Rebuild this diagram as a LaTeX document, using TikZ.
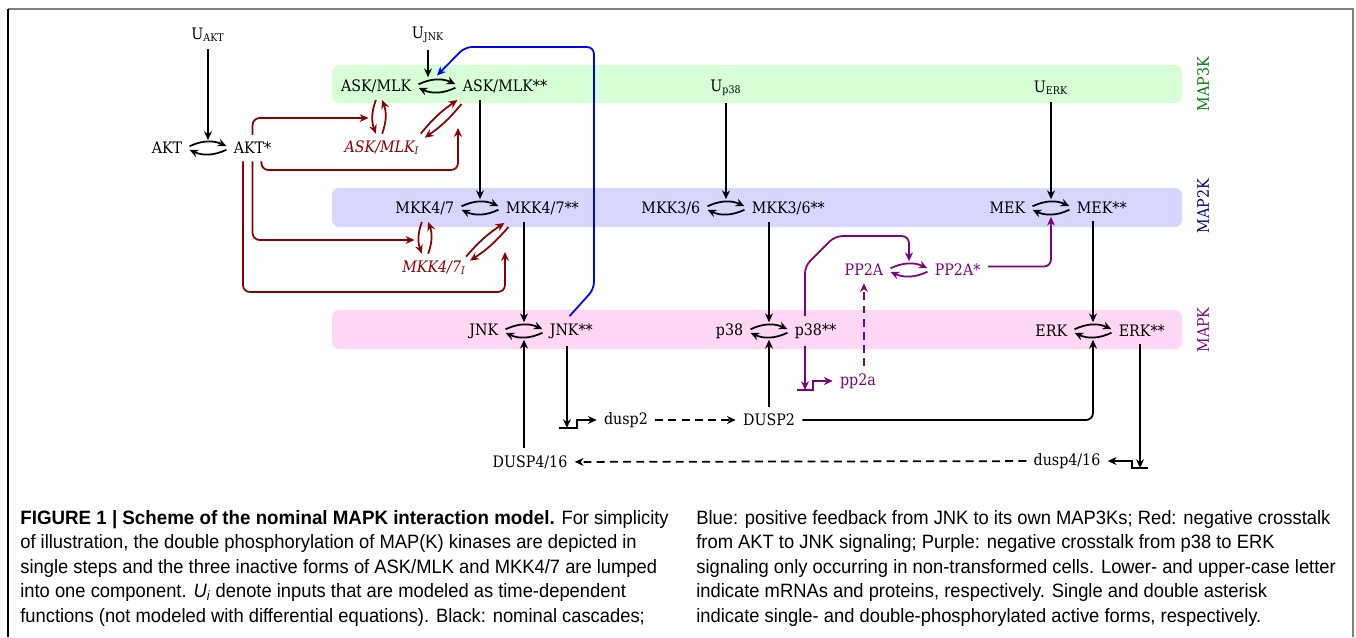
\documentclass[tikz,border=0pt]{standalone}
\usepackage{fontspec}
\setmainfont{DejaVu Serif}[FakeStretch=0.9]
\newfontfamily\capfont{Liberation Sans}[FakeStretch=0.95]
\newfontfamily\capbold{Liberation Sans}[FakeStretch=0.97]
\usetikzlibrary{arrows.meta,positioning,calc}

\definecolor{inh}{RGB}{139,0,0}
\definecolor{pur}{RGB}{128,0,128}
\definecolor{fbblue}{RGB}{0,0,255}
\definecolor{bandg}{RGB}{214,255,214}
\definecolor{bandb}{RGB}{214,214,255}
\definecolor{bandp}{RGB}{255,214,244}

% reversible (de)phosphorylation step centred on a coordinate
\newcommand{\swap}[2][black]{%
  \draw[conv,#1] ([xshift=-10.5pt,yshift=1pt]#2) to[bend left=25] ([xshift=10.5pt,yshift=1pt]#2);
  \draw[conv,#1] ([xshift=10.5pt,yshift=-1pt]#2) to[bend left=25] ([xshift=-10.5pt,yshift=-1pt]#2);}

\begin{document}
\begin{tikzpicture}[x=0.02cm,y=-0.02cm,
  font=\fontsize{9pt}{11pt}\selectfont,
  every node/.style={inner sep=4pt},
  conv/.style={line width=1pt,-{Stealth[length=5pt,width=4.5pt]}},
  mrna/.style={dash pattern=on 4.5pt off 3pt},
  inhib/.style={conv,inh},
  fback/.style={conv,fbblue},
  capline/.style={anchor=base west,inner sep=0pt,font=\capfont\fontsize{11pt}{13pt}\selectfont}]
\useasboundingbox (0,0) rectangle (1356,637);

%frame
\draw[gray,line width=1.2pt] (8,9) -- (1353,9) -- (1353,637);
\draw[line width=1pt] (8,9) -- (8,637);

%layers
\fill[bandg,rounded corners=4pt] (332,65) rectangle (1182,103);
\fill[bandb,rounded corners=4pt] (332,188) rectangle (1182,227);
\fill[bandp,rounded corners=4pt] (332,310) rectangle (1182,349);
\node[rotate=90,text=green!50!black] (map3k) at (1203,84) {MAP3K};
\node[rotate=90,text=blue!50!black] (map2k) at (1203,206) {MAP2K};
\node[rotate=90,text=pur] (mapk) at (1203,330) {MAPK};

%conversion points
\coordinate (sakt) at (208,148);
\coordinate (sask) at (437,86);
\coordinate (smkk47) at (480,208);
\coordinate (smkk36) at (726,208);
\coordinate (smek) at (1051,208);
\coordinate (spp2a) at (909,270);
\coordinate (sjnk) at (524,331);
\coordinate (sp38) at (769,331);
\coordinate (serk) at (1093,331);
\coordinate (vask) at (379,118);
\coordinate (vmkk) at (425,240);

%species
\node (uakt) at (208,35) {U\textsubscript{AKT}};
\node (ujnk) at (428,35) {U\textsubscript{JNK}};
\node (up38) at (726,88) {U\textsubscript{p38}};
\node (uerk) at (1051,88) {U\textsubscript{ERK}};
\node[left=10.5pt of sakt] (akt) {AKT};
\node[right=10.5pt of sakt] (aktp) {AKT*};
\node[left=10.5pt of sask] (askmlk) {ASK/MLK};
\node[right=10.5pt of sask] (askmlkp) {ASK/MLK**};
\node[text=inh] (askmlki) at (382,148) {\textit{ASK/MLK\textsubscript{I}}};
\node[left=10.5pt of smkk47] (mkk47) {MKK4/7};
\node[right=10.5pt of smkk47] (mkk47p) {MKK4/7**};
\node[text=inh] (mkk47i) at (434,268) {\textit{MKK4/7\textsubscript{I}}};
\node[left=10.5pt of smkk36] (mkk36) {MKK3/6};
\node[right=10.5pt of smkk36] (mkk36p) {MKK3/6**};
\node[left=10.5pt of smek] (mek) {MEK};
\node[right=10.5pt of smek] (mekp) {MEK**};
\node[left=10.5pt of spp2a,text=pur] (pp2am) {PP2A};
\node[right=10.5pt of spp2a,text=pur] (pp2ap) {PP2A*};
\node[left=10.5pt of sjnk] (jnk) {JNK};
\node[right=10.5pt of sjnk] (jnkp) {JNK**};
\node[left=10.5pt of sp38] (p38) {p38};
\node[right=10.5pt of sp38] (p38p) {p38**};
\node[left=10.5pt of serk] (erk) {ERK};
\node[right=10.5pt of serk] (erkp) {ERK**};
\node[text=pur] (pp2a) at (858,381) {pp2a};
\node (dusp2) at (626,420) {dusp2};
\node (dusp2p) at (769,420) {DUSP2};
\node (dusp416) at (530,462) {DUSP4/16};
\node (dusp416m) at (1067,461) {dusp4/16};
\coordinate (gdusp2) at (568,428);
\coordinate (gpp2a) at (805,390);
\coordinate (gdusp4) at (1140,468);

%cascades
\swap{sakt} \swap{sask} \swap{smkk47} \swap{smkk36} \swap{smek}
\swap{sjnk} \swap{sp38} \swap{serk} \swap[pur]{spp2a}
\draw[conv] (uakt) -- ([yshift=4.5pt]sakt);
\draw[conv] (ujnk) -- ([yshift=5pt]sask -| ujnk);
\draw[conv] (up38) -- ([yshift=5pt]smkk36);
\draw[conv] (uerk) -- ([yshift=5pt]smek);
\draw[conv] (askmlkp.south -| smkk47) -- ([yshift=5pt]smkk47);
\draw[conv] (mkk47p.south -| sjnk) -- ([yshift=5pt]sjnk);
\draw[conv] (mkk36p.south -| sp38) -- ([yshift=5pt]sp38);
\draw[conv] (mekp.south -| serk) -- ([yshift=5pt]serk);
%phosphatases
\draw[conv] (dusp416.north -| sjnk) -- ([yshift=-5pt]sjnk);
\draw[conv] (dusp2p) -- ([yshift=-5pt]sp38);
\draw[conv,rounded corners=4pt] (dusp2p.east) -| ([yshift=-5pt]serk);
\draw[conv] ([xshift=-2.5pt]jnkp.south) -- ([xshift=-2.5pt]jnkp.south |- gdusp2);
\draw[conv] ([xshift=-5pt]gdusp2) -- ([xshift=5pt]gdusp2) -- ++(0,-8) -- (dusp2.west);
\draw[conv,mrna] (dusp2) -- (dusp2p);
\draw[conv] ([xshift=-1pt]erkp.south) -- ([xshift=-1pt]erkp.south |- gdusp4);
\draw[conv] ([xshift=4.5pt]gdusp4) -- ([xshift=-4.5pt]gdusp4) -- ++(0,-7) -- (dusp416m.east);
\draw[conv,mrna] (dusp416m) -- (dusp416);

%positive feedback
\draw[fback,rounded corners=4pt] ([xshift=-1pt]jnkp.north) -- (594,289) -- (594,47) -- (465,47) -- ([yshift=6pt]sask);

%AKT crosstalk
\draw[inhib] ([xshift=-1.8pt]vask |- askmlk.south) to[bend right=20] ([xshift=-1.8pt]vask |- askmlki.north);
\draw[inhib] ([xshift=1.8pt]vask |- askmlki.north) to[bend right=20] ([xshift=1.8pt]vask |- askmlk.south);
\draw[inhib] ([shift={(-6,0)}]askmlki.north east) to[bend left=8] ([shift={(2,0)}]askmlkp.south west);
\draw[inhib] ([shift={(6,4)}]askmlkp.south west) to[bend left=8] ([shift={(-2,4)}]askmlki.north east);
\draw[inhib] ([xshift=-1.8pt]vmkk |- mkk47.south) to[bend right=20] ([xshift=-1.8pt]vmkk |- mkk47i.north);
\draw[inhib] ([xshift=1.8pt]vmkk |- mkk47i.north) to[bend right=20] ([xshift=1.8pt]vmkk |- mkk47.south);
\draw[inhib] ([shift={(-7,3)}]mkk47i.north east) to[bend left=8] ([shift={(6,1)}]mkk47p.south west);
\draw[inhib] ([shift={(10,5)}]mkk47p.south west) to[bend left=8] ([shift={(-3,7)}]mkk47i.north east);
\draw[inhib,rounded corners=4pt] (aktp.north) |- ([xshift=-6pt]vask);
\draw[inhib,rounded corners=4pt] ([xshift=5pt]aktp.south) |- (458,170) -- (458,128);
\draw[inhib,rounded corners=4pt] (aktp.south) |- ([xshift=-6pt]vmkk);
\draw[inhib,rounded corners=4pt] ([xshift=-5.5pt]aktp.south) |- (505,292) -- (505,252);

%p38 crosstalk
\draw[conv,pur,rounded corners=4pt] ([xshift=-6pt]p38p.north) -- ++(0,-50) -- ++(30,-30) -| ([yshift=5pt]spp2a);
\draw[conv,pur] ([xshift=-6pt]p38p.south) -- ([xshift=-6pt]p38p.south |- gpp2a);
\draw[conv,pur] ([xshift=-4.5pt]gpp2a) -- ([xshift=4.5pt]gpp2a) -- ++(0,-9) -- (pp2a.west);
\draw[conv,pur,mrna] (pp2a.north -| pp2am) -- (pp2am.south);
\draw[conv,pur,rounded corners=4pt] ([yshift=2pt]pp2ap.east) -| ([yshift=-5pt]smek);

%caption
\node[capline] (c1) at (20,524) {{\capbold\bfseries FIGURE 1 | Scheme of the nominal MAPK interaction model.} For simplicity};
\node[capline] (c2) at (20,548.5) {of illustration, the double phosphorylation of MAP(K) kinases are depicted in};
\node[capline] (c3) at (20,573) {single steps and the three inactive forms of ASK/MLK and MKK4/7 are lumped};
\node[capline] (c4) at (20,597.5) {into one component. \textit{U\textsubscript{i}} denote inputs that are modeled as time-dependent};
\node[capline] (c5) at (20,622) {functions (not modeled with differential equations). Black: nominal cascades;};
\node[capline] (c6) at (696,524) {Blue: positive feedback from JNK to its own MAP3Ks; Red: negative crosstalk};
\node[capline] (c7) at (696,548.5) {from AKT to JNK signaling; Purple: negative crosstalk from p38 to ERK};
\node[capline] (c8) at (696,573) {signaling only occurring in non-transformed cells. Lower- and upper-case letter};
\node[capline] (c9) at (696,597.5) {indicate mRNAs and proteins, respectively. Single and double asterisk};
\node[capline] (c10) at (696,622) {indicate single- and double-phosphorylated active forms, respectively.};
\end{tikzpicture}
\end{document}
